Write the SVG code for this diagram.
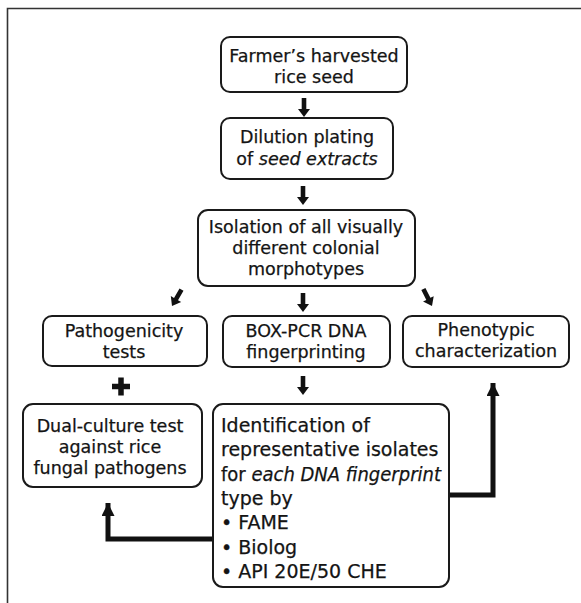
<svg xmlns="http://www.w3.org/2000/svg" xmlns:xlink="http://www.w3.org/1999/xlink" width="581" height="603" viewBox="0 0 581 603">
<style>
.box{fill:#fff;stroke:#1a1a1a;stroke-width:2}
.t{font-family:"DejaVu Sans","Liberation Sans",sans-serif;font-size:17.5px;fill:#141414;stroke:#141414;stroke-width:0.25;text-anchor:middle}
.tl{font-family:"DejaVu Sans","Liberation Sans",sans-serif;font-size:19px;fill:#141414;stroke:#141414;stroke-width:0.25}
.i{font-style:italic}
.ln{fill:none;stroke:#111;stroke-width:5;stroke-linejoin:miter}
.frame{fill:none;stroke:#333;stroke-width:1.6}
</style>
<defs>
<path id="ar" d="M-2.3,-19 L2.3,-19 L2.3,-8 L6,-8 L0,0 L-6,-8 L-2.3,-8 Z" fill="#111"/>
<marker id="head" viewBox="0 0 16 13" refX="13" refY="6.5" markerWidth="16" markerHeight="13" markerUnits="userSpaceOnUse" orient="auto">
<path d="M0,0 L13,6.5 L0,13 Z" fill="#111"/>
</marker>
</defs>
<rect width="581" height="603" fill="#fff"/>
<path class="frame" d="M7.5,603 L7.5,8.5 L581,8.5"/>

<g id="connectors">
<use xlink:href="#ar" transform="translate(304,117)"/>
<use xlink:href="#ar" transform="translate(303,205)"/>
<use xlink:href="#ar" transform="translate(172,306) rotate(30)"/>
<use xlink:href="#ar" transform="translate(303,312)"/>
<use xlink:href="#ar" transform="translate(432,306) rotate(-27)"/>
<use xlink:href="#ar" transform="translate(303,395)"/>
<path d="M112,386.5 H130 M121,377.5 V395.5" stroke="#111" stroke-width="5.5" fill="none"/>
<path class="ln" d="M213,539 H108 V503" marker-end="url(#head)"/>
<path class="ln" d="M449,495 H493 V383" marker-end="url(#head)"/>
</g>

<g id="n1">
<rect class="box" x="221" y="37" width="186" height="55" rx="9"/>
<text class="t" x="314" y="62">Farmer’s harvested</text>
<text class="t" x="314" y="83">rice seed</text>
</g>
<g id="n2">
<rect class="box" x="221" y="118" width="172" height="61" rx="9"/>
<text class="t" x="307" y="143">Dilution plating</text>
<text class="t" x="307" y="165">of <tspan class="i">seed extracts</tspan></text>
</g>
<g id="n3">
<rect class="box" x="198" y="210" width="217" height="76" rx="10"/>
<text class="t" x="306" y="233">Isolation of all visually</text>
<text class="t" x="306" y="254">different colonial</text>
<text class="t" x="306" y="275">morphotypes</text>
</g>
<g id="n4">
<rect class="box" x="43" y="316" width="164" height="50" rx="9"/>
<text class="t" x="124" y="337">Pathogenicity</text>
<text class="t" x="124" y="358">tests</text>
</g>
<g id="n5">
<rect class="box" x="223" y="316" width="167" height="51" rx="9"/>
<text class="t" x="306" y="337">BOX-PCR DNA</text>
<text class="t" x="306" y="358">fingerprinting</text>
</g>
<g id="n6">
<rect class="box" x="403" y="316" width="166" height="51" rx="9"/>
<text class="t" x="486" y="336">Phenotypic</text>
<text class="t" x="486" y="357">characterization</text>
</g>
<g id="n7">
<rect class="box" x="23" y="404" width="179" height="83" rx="10"/>
<text class="t" x="110" y="432">Dual-culture test</text>
<text class="t" x="110" y="453">against rice</text>
<text class="t" x="110" y="474">fungal pathogens</text>
</g>
<g id="n8">
<rect class="box" x="213" y="404" width="236" height="183" rx="10"/>
<text class="tl" x="221" y="431.5">Identification of</text>
<text class="tl" x="221" y="456">representative isolates</text>
<text class="tl" x="221" y="480.5" textLength="220" lengthAdjust="spacingAndGlyphs">for <tspan class="i">each DNA fingerprint</tspan></text>
<text class="tl" x="221" y="505">type by</text>
<text class="tl" x="221" y="529">• FAME</text>
<text class="tl" x="221" y="553.5">• Biolog</text>
<text class="tl" x="221" y="578">• API 20E/50 CHE</text>
</g>
</svg>
